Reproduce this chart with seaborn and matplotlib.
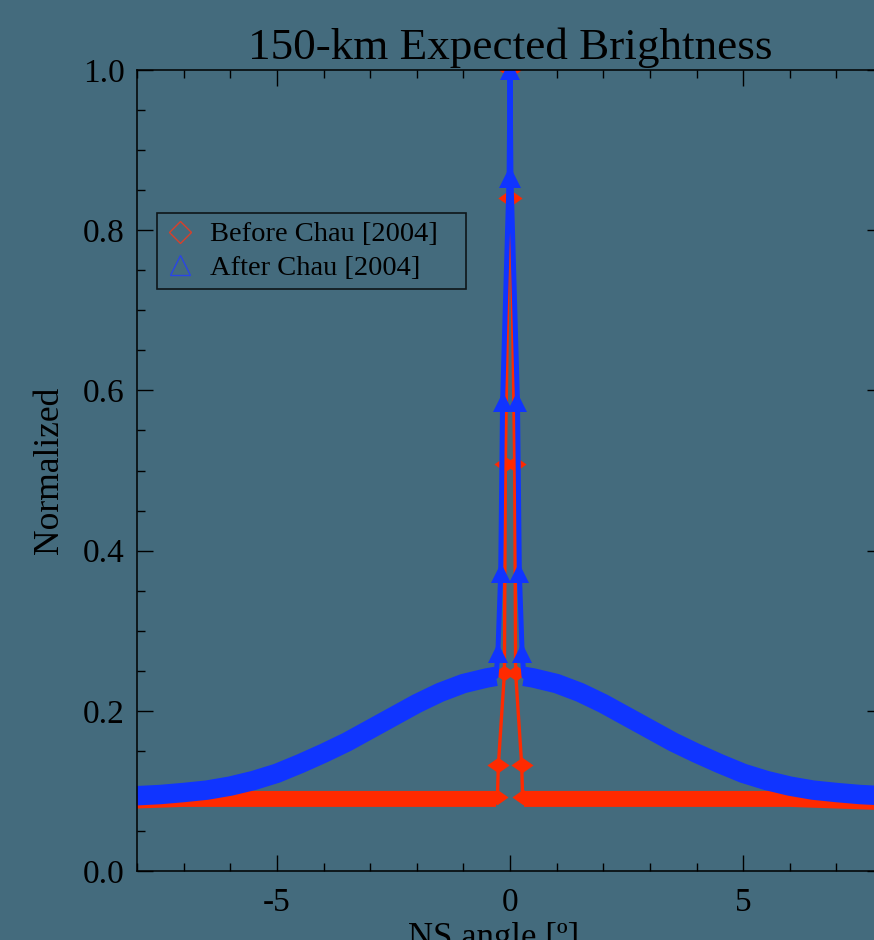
import numpy as np
import pandas as pd
import matplotlib
matplotlib.use("Agg")
import matplotlib.pyplot as plt
import seaborn as sns
from matplotlib.lines import Line2D
from matplotlib.ticker import MultipleLocator, FormatStrFormatter

# ---------------- data ----------------
after_band_left_x = [-8.0, -7.5, -7.0, -6.5, -6.0, -5.5, -5.0, -4.5, -4.0, -3.5, -3.0, -2.5, -2.0, -1.5, -1.0, -0.5, -0.3]
after_band_left_y = [0.094, 0.0955, 0.098, 0.101, 0.106, 0.113, 0.122, 0.134, 0.147, 0.161, 0.177, 0.193, 0.209, 0.223, 0.234, 0.241, 0.243]
after_band_right_x = [0.3, 0.5, 1.0, 1.5, 2.0, 2.5, 3.0, 3.5, 4.0, 4.5, 5.0, 5.5, 6.0, 6.5, 7.0, 7.5, 8.0]
after_band_right_y = [0.243, 0.241, 0.234, 0.223, 0.209, 0.193, 0.177, 0.161, 0.147, 0.134, 0.122, 0.113, 0.106, 0.101, 0.098, 0.0955, 0.094]

before_band_left_x = [-8.0, -7.0, -6.0, -4.0, -2.0, -1.0, -0.3]
before_band_left_y = [0.088, 0.090, 0.090, 0.090, 0.090, 0.090, 0.090]
before_band_right_x = [0.3, 1.0, 2.0, 4.0, 6.0, 7.0, 8.0]
before_band_right_y = [0.090, 0.090, 0.090, 0.090, 0.090, 0.088, 0.086]

after_spike_x = [-0.30, -0.26, -0.20, -0.16, -0.02, 0.0, 0.02, 0.16, 0.20, 0.26, 0.30]
after_spike_y = [0.243, 0.272, 0.372, 0.585, 0.865, 1.0, 0.865, 0.585, 0.372, 0.272, 0.243]

before_spike_x = [-0.30, -0.27, -0.25, -0.12, -0.10, -0.02, 0.0, 0.02, 0.10, 0.12, 0.25, 0.27, 0.30]
before_spike_y = [0.090, 0.092, 0.1325, 0.2475, 0.508, 0.840, 1.0, 0.840, 0.508, 0.2475, 0.1325, 0.092, 0.090]

series_labels = ["Before Chau [2004]", "After Chau [2004]"]
title_text = "150-km Expected Brightness"
xlabel_text = "NS angle [º]"
ylabel_text = "Normalized"

# ---------------- style ----------------
BG = "#446b7d"
RED = "#ff2a00"
BLUE = "#1034ff"

sns.set_style("ticks")
plt.rcParams["font.family"] = ["Liberation Serif", "DejaVu Serif"]
plt.rcParams["text.color"] = "black"
plt.rcParams["axes.labelcolor"] = "black"
plt.rcParams["xtick.color"] = "black"
plt.rcParams["ytick.color"] = "black"

fig = plt.figure(figsize=(8.74, 9.40), dpi=100, facecolor=BG)
ax = fig.add_axes([0.1568, 0.0734, 0.8535, 0.8521], facecolor=BG)

flat_diamond = [(-1.0, 0.0), (0.0, 0.7), (1.0, 0.0), (0.0, -0.7), (-1.0, 0.0)]

def draw(x, y, **kw):
    df = pd.DataFrame({"x": x, "y": y})
    sns.lineplot(data=df, x="x", y="y", ax=ax, estimator=None, sort=False,
                 legend=False, **kw)

# bands
draw(before_band_left_x, before_band_left_y, color=RED, linewidth=11.5, solid_capstyle="butt")
draw(before_band_right_x, before_band_right_y, color=RED, linewidth=11.5, solid_capstyle="butt")
# red spike
draw(before_spike_x[1:-1], before_spike_y[1:-1], color=RED, linewidth=2.4,
     marker=flat_diamond, markersize=16, markeredgewidth=0, markerfacecolor=RED)
draw(after_band_left_x, after_band_left_y, color=BLUE, linewidth=14, solid_capstyle="butt")
draw(after_band_right_x, after_band_right_y, color=BLUE, linewidth=14, solid_capstyle="butt")
# blue spike
draw(after_spike_x[1:-1], after_spike_y[1:-1], color=BLUE, linewidth=3.6,
     marker="^", markersize=15, markeredgewidth=0, markerfacecolor=BLUE)
draw([after_spike_x[0], after_spike_x[1]], [after_spike_y[0], after_spike_y[1]], color=BLUE, linewidth=3.6)
draw([after_spike_x[-2], after_spike_x[-1]], [after_spike_y[-2], after_spike_y[-1]], color=BLUE, linewidth=3.6)

ax.set_xlim(-8, 8)
ax.set_ylim(0, 1)
ax.xaxis.set_major_locator(MultipleLocator(5))
ax.xaxis.set_minor_locator(MultipleLocator(1))
ax.yaxis.set_major_locator(MultipleLocator(0.2))
ax.yaxis.set_minor_locator(MultipleLocator(0.05))
ax.yaxis.set_major_formatter(FormatStrFormatter("%.1f"))
ax.xaxis.set_major_formatter(FormatStrFormatter("%d"))

ax.tick_params(which="both", direction="in", top=True, right=True, width=1.0, color="black")
ax.tick_params(which="major", length=11.5, labelsize=24)
ax.tick_params(axis="x", which="major", pad=12)
ax.tick_params(axis="y", which="major", pad=9)
ax.tick_params(which="minor", length=5.8)
for sp in ax.spines.values():
    sp.set_color("black")
    sp.set_linewidth(1.1)

ax.set_title(title_text, fontsize=32.5, pad=8, color="black")
ax.set_xlabel(xlabel_text, fontsize=25)
ax.xaxis.set_label_coords(0.478, -0.064)
ax.set_ylabel(ylabel_text, fontsize=25.5)
ax.yaxis.set_label_coords(-0.0946, 0.5)

handles = [
    Line2D([], [], linestyle="none", marker="D", markersize=11, markerfacecolor="none",
           markeredgecolor="#d9402a", markeredgewidth=1.0),
    Line2D([], [], linestyle="none", marker="^", markersize=14, markerfacecolor="none",
           markeredgecolor="#2a45e6", markeredgewidth=1.0),
]
leg = ax.legend(handles, series_labels, loc="upper left",
                bbox_to_anchor=(0.0268, 0.8215, 0.4142, 0.0), mode="expand",
                borderaxespad=0, fontsize=20.5, frameon=True, fancybox=False,
                handlelength=1.0, handletextpad=0.55, labelspacing=0.25, borderpad=0.3)
leg.get_frame().set_facecolor("none")
leg.get_frame().set_edgecolor("black")
leg.get_frame().set_linewidth(1.2)
for t in leg.get_texts():
    t.set_color("black")

fig.savefig("out.png", dpi=100, facecolor=BG)
